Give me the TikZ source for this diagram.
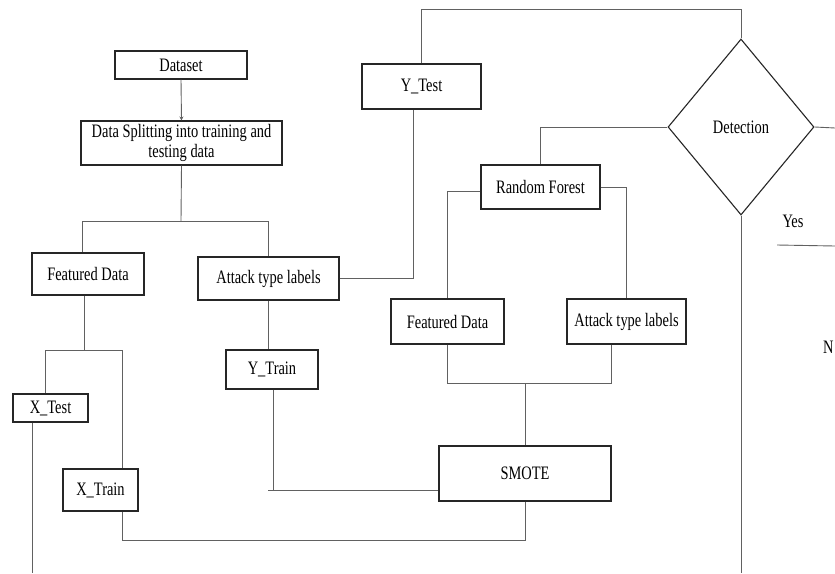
\documentclass[tikz,border=0pt]{standalone}
\usepackage{fontspec}
\setmainfont{Liberation Serif}[FakeStretch=0.76]
\usetikzlibrary{shapes.geometric,arrows.meta}
\definecolor{linegray}{gray}{0.38}
\definecolor{boxgray}{gray}{0.15}
\tikzset{
  box/.style={draw=boxgray, line width=1.1pt, rectangle, inner sep=0pt, align=center, font=\fontsize{19}{20}\selectfont},
  conn/.style={draw=linegray, line width=0.9pt},
  lbl/.style={font=\fontsize{19}{20}\selectfont, inner sep=0pt}
}
\begin{document}
\begin{tikzpicture}[x=1pt,y=-1pt]
\useasboundingbox (0,0) rectangle (835,573);
\fill[white] (0,0) rectangle (835,573);

\node[box, minimum width=132, minimum height=28] (dataset) at (181,65) {Dataset};
\node[box, minimum width=201, minimum height=44] (split) at (181.5,143) {Data Splitting into training and\\testing data};
\node[box, minimum width=112, minimum height=42] (fd1) at (88,274) {Featured Data};
\node[box, minimum width=141, minimum height=43] (atk1) at (268.5,278.5) {Attack type labels};
\node[box, minimum width=119, minimum height=45] (ytest) at (421.5,86.5) {Y\_Test};
\node[draw=boxgray, line width=1.1pt, diamond, minimum width=146, minimum height=176, inner sep=0pt, font=\fontsize{19}{20}\selectfont] (det) at (741,127) {Detection};
\node[box, minimum width=119, minimum height=44] (rf) at (540.5,187) {Random Forest};
\node[box, minimum width=113, minimum height=45] (fd2) at (447.5,321.5) {Featured Data};
\node[box, minimum width=119, minimum height=45] (atk2) at (626.5,321.5) {Attack type labels};
\node[box, minimum width=172, minimum height=55] (smote) at (525,473.5) {SMOTE};
\node[box, minimum width=92, minimum height=39] (ytrain) at (272,369.5) {Y\_Train};
\node[box, minimum width=75, minimum height=28] (xtest) at (50.5,408) {X\_Test};
\node[box, minimum width=75, minimum height=42] (xtrain) at (100.5,490) {X\_Train};

\node[lbl] (yes) at (793,221) {Yes};
\node[lbl, anchor=west] (no) at (823,347) {N};

\coordinate (j1) at (181,221);
\coordinate (top) at (741,9);
\coordinate (reast) at (835,128);
\coordinate (j2) at (525,383);
\coordinate (c3) at (268,490);
\coordinate (j4) at (525,540);
\coordinate (j5) at (84,350);
\coordinate (xb) at (32,573);
\coordinate (db) at (741,573);
\coordinate (ya) at (777,245);
\coordinate (yb) at (835,246);

\draw[conn, -{Stealth[length=4pt,width=4pt]}] (dataset.south) -- (split.north);
\draw[conn] (split.south) -- (j1);
\draw[conn] (j1) -| ([xshift=-6pt]fd1.north);
\draw[conn] (j1) -| (atk1.north);
\draw[conn] (atk1.east) -| ([xshift=-8.5pt]ytest.south);
\draw[conn] (ytest.north) |- (top) -- (det.north);
\draw[conn] (det.west) -| (rf.north);
\draw[conn] (det.east) -- (reast);
\draw[conn] ([yshift=-4pt]rf.west) -| (fd2.north);
\draw[conn] (rf.east) -| (atk2.north);
\draw[conn] (fd2.south) |- (j2);
\draw[conn] ([xshift=-15.5pt]atk2.south) |- (j2);
\draw[conn] (j2) -- (smote.north);
\draw[conn] (atk1.south) -- (atk1.south |- ytrain.north);
\draw[conn] ([xshift=1pt]ytrain.south) -- ([xshift=1pt]ytrain.south |- c3);
\draw[conn] (c3) -- (c3 -| smote.west);
\draw[conn] (smote.south) -- (j4) -| ([xshift=21.5pt]xtrain.south);
\draw[conn] ([xshift=-4pt]fd1.south) -- (j5);
\draw[conn] (j5) -| ([xshift=-5pt]xtest.north);
\draw[conn] (j5) -| ([xshift=21.5pt]xtrain.north);
\draw[conn] ([xshift=-18.5pt]xtest.south) -- (xb);
\draw[conn] (det.south) -- (db);
\draw[conn] (ya) -- (yb);
\end{tikzpicture}
\end{document}
